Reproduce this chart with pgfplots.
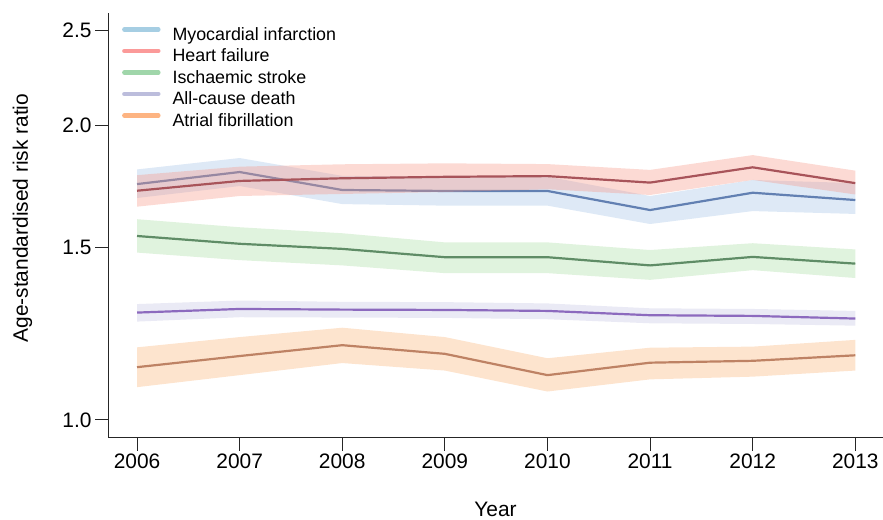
\documentclass[border=0pt]{standalone}
\usepackage{fontspec}
\setmainfont{Liberation Sans}
\usepackage{pgfplots}
\usepackage{pgfplotstable}
\pgfplotsset{compat=1.18}
\usepgfplotslibrary{fillbetween}

% legend tones, band tones (used at 36% opacity) and line tones
\definecolor{miL}{RGB}{166,206,227}\definecolor{miB}{RGB}{163,194,230}\definecolor{miD}{RGB}{98,128,178}
\definecolor{hfL}{RGB}{251,154,153}\definecolor{hfB}{RGB}{247,152,136}\definecolor{hfD}{RGB}{168,84,90}
\definecolor{isL}{RGB}{160,214,170}\definecolor{isB}{RGB}{169,222,163}\definecolor{isD}{RGB}{95,140,102}
\definecolor{acL}{RGB}{188,189,220}\definecolor{acB}{RGB}{197,197,227}\definecolor{acD}{RGB}{140,106,190}
\definecolor{afL}{RGB}{253,180,130}\definecolor{afB}{RGB}{249,180,119}\definecolor{afD}{RGB}{190,130,100}

% each outcome gets a band layer and a line layer, stacked in order
\pgfplotsset{
  layers/outcome order/.define layer set={
    axis background,axis grid,
    bmi,lmi,bhf,lhf,bis,lis,bac,lac,baf,laf,
    pre main,main,axis ticks,axis lines,axis tick labels,
    axis descriptions,axis foreground
  }{/pgfplots/layers/standard},
}

% year, estimate, lower and upper 95% limits
\pgfplotstableread{
year est lo hi
2006 1.741 1.685 1.802
2007 1.791 1.733 1.851
2008 1.717 1.661 1.775
2009 1.713 1.655 1.772
2010 1.713 1.655 1.772
2011 1.638 1.585 1.693
2012 1.706 1.634 1.758
2013 1.677 1.623 1.745
}\tblMI
\pgfplotstableread{
year est lo hi
2006 1.714 1.651 1.778
2007 1.754 1.693 1.814
2008 1.765 1.701 1.824
2009 1.771 1.709 1.828
2010 1.774 1.720 1.825
2011 1.747 1.697 1.800
2012 1.811 1.758 1.864
2013 1.745 1.699 1.797
}\tblHF
\pgfplotstableread{
year est lo hi
2006 1.541 1.482 1.603
2007 1.513 1.456 1.573
2008 1.495 1.438 1.551
2009 1.466 1.412 1.518
2010 1.466 1.412 1.518
2011 1.438 1.390 1.491
2012 1.467 1.422 1.515
2013 1.444 1.396 1.493
}\tblIS
\pgfplotstableread{
year est lo hi
2006 1.287 1.260 1.313
2007 1.298 1.273 1.324
2008 1.296 1.272 1.320
2009 1.295 1.271 1.319
2010 1.292 1.267 1.315
2011 1.279 1.255 1.300
2012 1.277 1.253 1.298
2013 1.269 1.248 1.292
}\tblAC
\pgfplotstableread{
year est lo hi
2006 1.132 1.080 1.186
2007 1.162 1.111 1.215
2008 1.192 1.143 1.242
2009 1.168 1.123 1.215
2010 1.111 1.069 1.156
2011 1.144 1.100 1.185
2012 1.149 1.107 1.188
2013 1.164 1.123 1.207
}\tblAF

% band + line for one outcome
\newcommand{\outcome}[4]{%
  \addplot[draw=none, forget plot, name path=#4U] table[x=year,y=hi]{#1};
  \addplot[draw=none, forget plot, name path=#4L] table[x=year,y=lo]{#1};
  \addplot[fill=#2, fill opacity=0.36, draw=none, forget plot]
    fill between[of=#4U and #4L, on layer=b#4];
  \addplot[#3, line width=2.2bp, forget plot, on layer=l#4] table[x=year,y=est]{#1};
}

\begin{document}
\begin{tikzpicture}
\begin{axis}[
  set layers=outcome order,
  scale only axis,
  width=775bp, height=424.7bp,
  xmin=2005.717, xmax=2013.27,
  ymode=log, ymin=0.959, ymax=2.603,
  axis x line*=bottom, axis y line*=left,
  axis line style={-, line width=1bp, black!85},
  tick style={line width=1bp, black!85},
  tick align=outside, major tick length=13bp,
  xtick={2006,2007,2008,2009,2010,2011,2012,2013},
  xticklabels={2006,2007,2008,2009,2010,2011,2012,2013},
  ytick={1,1.5,2,2.5},
  yticklabels={1.0,1.5,2.0,2.5},
  yminorticks=false,
  tick label style={font=\fontsize{21}{24}\selectfont},
  label style={font=\fontsize{21}{24}\selectfont},
  xlabel={Year},
  xlabel style={at={(axis description cs:0.5,-0.168)}, anchor=center},
  ylabel={Age-standardised risk ratio},
  ylabel style={at={(axis description cs:-0.1103,0.517)}, anchor=center},
  legend style={draw=none, fill=none, inner sep=0pt,
    at={(axis description cs:0.018,0.968)}, anchor=north west,
    font=\fontsize{17.9}{21}\selectfont,
    nodes={inner sep=1bp, text height=12.5bp, text depth=3.5bp},
    row sep=3.5bp, column sep=11bp},
  legend cell align=left,
  legend image code/.code={%
    \draw[#1, line width=4.4bp, line cap=round] (2bp,6.3bp) -- (36bp,6.3bp);},
]
\outcome{\tblMI}{miB}{miD}{mi}
\outcome{\tblHF}{hfB}{hfD}{hf}
\outcome{\tblIS}{isB}{isD}{is}
\outcome{\tblAC}{acB}{acD}{ac}
\outcome{\tblAF}{afB}{afD}{af}

\addlegendimage{miL}\addlegendentry{Myocardial infarction}
\addlegendimage{hfL}\addlegendentry{Heart failure}
\addlegendimage{isL}\addlegendentry{Ischaemic stroke}
\addlegendimage{acL}\addlegendentry{All-cause death}
\addlegendimage{afL}\addlegendentry{Atrial fibrillation}
\end{axis}
\pgfresetboundingbox
\useasboundingbox (-108bp,-82.3bp) rectangle (775bp,437.7bp);
\end{tikzpicture}
\end{document}
